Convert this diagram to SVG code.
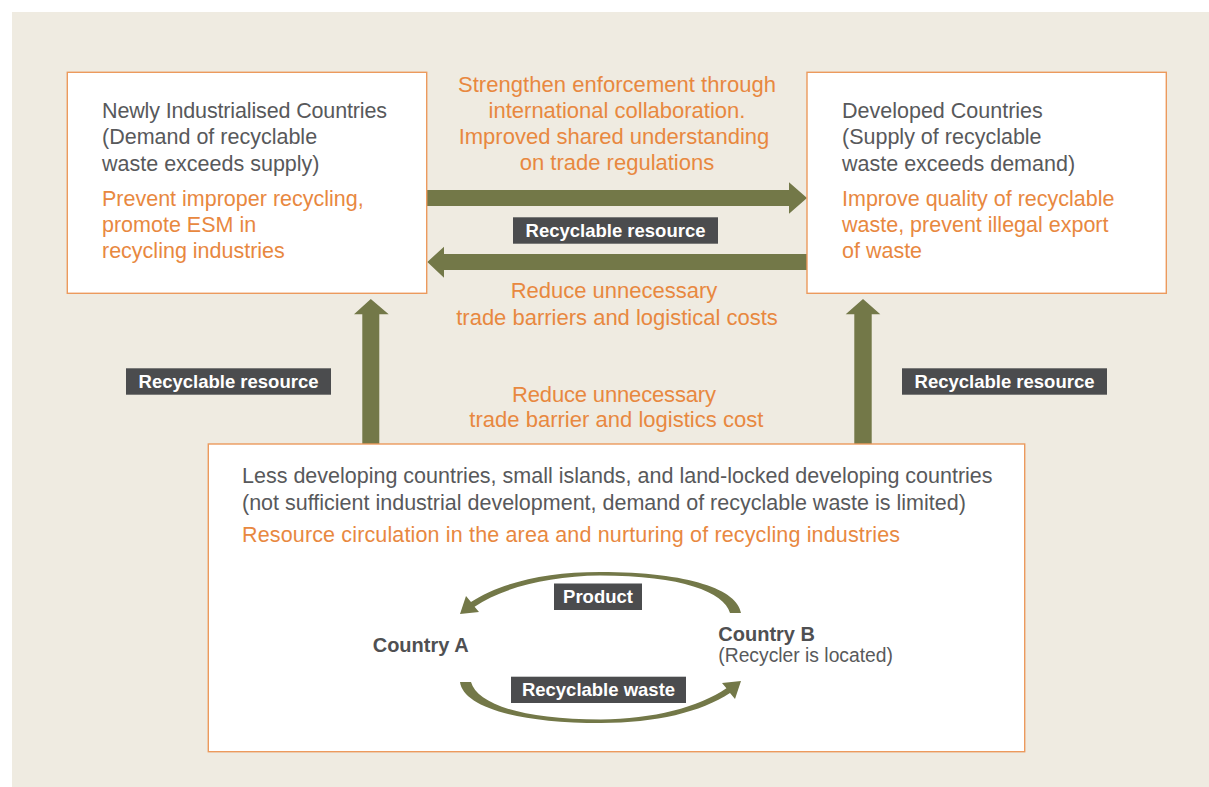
<svg xmlns="http://www.w3.org/2000/svg" width="1209" height="787" viewBox="0 0 1209 787">
  <defs>
    <style>
      .panel { fill: #efebe1; }
      .box { fill: #ffffff; stroke: #ec9a5d; stroke-width: 1.4; }
      .flow { fill: #737848; }
      .tag { fill: #4b4c4e; }
      .t { font-family: "Liberation Sans", Arial, Helvetica, sans-serif; font-size: 21.5px; }
      .c { font-family: "Liberation Sans", Arial, Helvetica, sans-serif; font-size: 22px; text-anchor: middle; }
      .grey { fill: #58595b; }
      .orange { fill: #e8883f; }
      .tagtxt { font-family: "Liberation Sans", Arial, Helvetica, sans-serif; font-size: 18.5px; font-weight: bold; fill: #ffffff; text-anchor: middle; }
      .name { font-family: "Liberation Sans", Arial, Helvetica, sans-serif; font-size: 20px; font-weight: bold; fill: #4f5052; }
      .sub { font-family: "Liberation Sans", Arial, Helvetica, sans-serif; font-size: 19.3px; fill: #58595b; }
    </style>
    <!-- tapered curved arrow, thick tail on the right, head on the left -->
    <path id="loop" d="M741,613 C738,590 690,572 600,572 C545,572 500,583 471,602 L466,596 L460,614 L479,612 L474.6,606.8 C502,588 548,576 600,575.5 C682,575.5 724,592 730,613 Z"/>
  </defs>

  <!-- backdrop -->
  <rect class="panel" x="12" y="12" width="1197" height="775"/>

  <!-- connectors -->
  <g id="connectors">
    <!-- Newly Industrialised -> Developed -->
    <path class="flow" d="M427,190 H789 V182.3 L807,198 L789,213.7 V206 H427 Z"/>
    <!-- Developed -> Newly Industrialised -->
    <path class="flow" d="M807,254 H444 V246.7 L427.3,262 L444,277.7 V270 H807 Z"/>
    <!-- bottom box -> Newly Industrialised -->
    <path class="flow" d="M362.3,444 V314.3 H354 L370.8,299 L388.7,314.3 H379.3 V444 Z"/>
    <!-- bottom box -> Developed -->
    <path class="flow" d="M854.3,444 V314.3 H845.7 L863,299 L880.3,314.3 H871.7 V444 Z"/>

    <g id="tag-mid">
      <rect class="tag" x="513" y="217.3" width="205" height="26.4"/>
      <text class="tagtxt" x="615.5" y="236.8">Recyclable resource</text>
    </g>
    <g id="tag-left">
      <rect class="tag" x="126" y="368.3" width="205" height="26.4"/>
      <text class="tagtxt" x="228.5" y="387.8">Recyclable resource</text>
    </g>
    <g id="tag-right">
      <rect class="tag" x="902" y="368.3" width="205" height="26.4"/>
      <text class="tagtxt" x="1004.5" y="387.8">Recyclable resource</text>
    </g>

    <text class="c orange" x="617" y="91.7" textLength="318">Strengthen enforcement through</text>
    <text class="c orange" x="617" y="117.5">international collaboration.</text>
    <text class="c orange" x="614" y="143.5">Improved shared understanding</text>
    <text class="c orange" x="617" y="170">on trade regulations</text>

    <text class="c orange" x="614" y="298.3">Reduce unnecessary</text>
    <text class="c orange" x="617" y="325">trade barriers and logistical costs</text>

    <text class="c orange" x="614" y="401.7" textLength="204">Reduce unnecessary</text>
    <text class="c orange" x="616.3" y="427.3" textLength="294">trade barrier and logistics cost</text>
  </g>

  <!-- Newly Industrialised Countries -->
  <g id="node-nic">
    <rect class="box" x="67.3" y="72.3" width="359.4" height="221"/>
    <text class="t grey" x="102" y="118.3" textLength="285">Newly Industrialised Countries</text>
    <text class="t grey" x="102" y="144.3">(Demand of recyclable</text>
    <text class="t grey" x="102" y="170.5">waste exceeds supply)</text>
    <text class="t orange" x="102" y="205.5">Prevent improper recycling,</text>
    <text class="t orange" x="102" y="231.7">promote ESM in</text>
    <text class="t orange" x="102" y="258.3">recycling industries</text>
  </g>

  <!-- Developed Countries -->
  <g id="node-dev">
    <rect class="box" x="807" y="72.3" width="359.3" height="221"/>
    <text class="t grey" x="842" y="118.3">Developed Countries</text>
    <text class="t grey" x="842" y="144.3">(Supply of recyclable</text>
    <text class="t grey" x="842" y="170.5">waste exceeds demand)</text>
    <text class="t orange" x="842" y="205.5">Improve quality of recyclable</text>
    <text class="t orange" x="842" y="231.7">waste, prevent illegal export</text>
    <text class="t orange" x="842" y="258.3">of waste</text>
  </g>

  <!-- Less developing countries -->
  <g id="node-ldc">
    <rect class="box" x="208.3" y="444" width="816.4" height="307.7"/>
    <text class="t grey" x="242" y="483.3">Less developing countries, small islands, and land-locked developing countries</text>
    <text class="t grey" x="242" y="510">(not sufficient industrial development, demand of recyclable waste is limited)</text>
    <text class="t orange" x="242" y="542.3" textLength="658">Resource circulation in the area and nurturing of recycling industries</text>

    <g id="cycle">
      <use href="#loop" class="flow"/>
      <use href="#loop" class="flow" transform="rotate(180 600.5 647.5)"/>
      <rect class="tag" x="554" y="583.5" width="88" height="26.5"/>
      <text class="tagtxt" x="598" y="603">Product</text>
      <rect class="tag" x="511" y="676.7" width="175" height="26.3"/>
      <text class="tagtxt" x="598.5" y="696">Recyclable waste</text>
    </g>

    <g id="node-a">
      <text class="name" x="372.7" y="652.3">Country A</text>
    </g>
    <g id="node-b">
      <text class="name" x="718.3" y="641">Country B</text>
      <text class="sub" x="718.3" y="662.3">(Recycler is located)</text>
    </g>
  </g>
</svg>
